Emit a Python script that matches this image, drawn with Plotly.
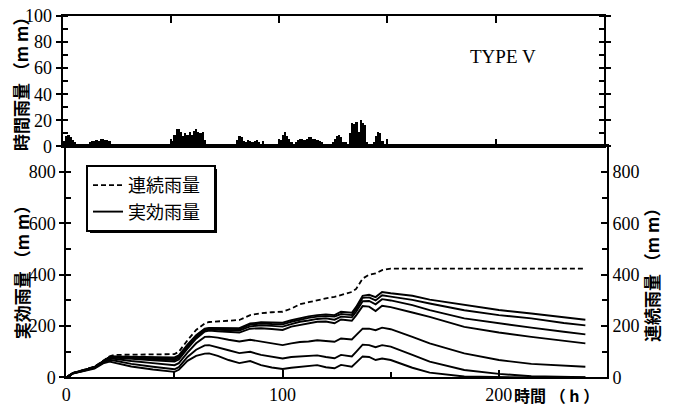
import plotly.graph_objects as go

# ---------------- data ----------------
hours = list(range(150))
hourly_rain = [
    4, 8, 9, 7, 5, 3, 2, 2, 2, 2, 2, 2, 3, 4, 4, 5, 4, 6, 6, 5, 5, 4,
    1, 1, 0.5, 1, 2, 1, 0.5, 0.5, 0.5, 0.5, 0.3, 0.3, 0.3, 0.3, 0.3, 0.3, 0.3, 0.3,
    0.5, 0.5, 0.5, 0.5, 0.5, 0.8, 1, 1, 1, 2,
    4, 9, 13, 13, 11, 8, 10, 9, 11, 9, 12, 13, 11, 10, 11, 5, 2,
    2, 1.5, 1.5, 1.5, 1.5, 1.5, 1.5, 1.5, 1.5, 1, 1, 1.5, 2,
    5, 8, 7, 4, 3, 5, 4, 3, 4, 5, 3, 2,
    4, 1, 1, 1, 1, 1, 1.5, 2,
    5, 9, 11, 8, 6, 3, 2,
    3, 5, 6, 6, 5, 6, 7, 7, 6, 6, 5, 4, 3,
    2, 2, 1.5, 2, 3,
    6, 8, 9, 7, 3,
    3, 2,
    10, 18, 17, 19, 11, 20, 18, 16,
    3, 2, 2, 3,
    8, 11, 10, 4,
    1, 0,
]

t = [0, 3, 8, 13, 17, 20, 22, 30, 40, 50, 52, 56, 60, 64, 66, 70, 75, 80, 85, 90, 95, 100,
     104, 108, 112, 116, 120, 124, 127, 132, 134, 137, 140, 143, 146, 150,
     160, 168, 184, 200, 215, 230, 240]

continuous = [0, 18, 30, 42, 65, 82, 88, 89, 90, 91, 100, 145, 185, 210, 216,
              219, 221, 224, 243, 250, 254, 256, 268, 285, 293, 302, 308, 314, 322, 333,
              345, 385, 400, 405, 418, 424, 424, 424, 424, 424, 424, 424, 424]

eff1 = [0, 17, 29, 41, 63, 80, 82, 81, 80, 78, 86, 128, 165, 190, 193,
        193, 192, 192, 210, 215, 214, 213, 223, 232, 238, 243, 245, 243, 256, 252,
        275, 318, 322, 313, 333, 328, 318, 303, 282, 263, 249, 235, 225]
eff2 = [0, 17, 29, 41, 63, 80, 81, 79, 77, 74, 82, 124, 162, 188, 191,
        190, 189, 189, 206, 210, 208, 207, 217, 226, 232, 237, 239, 237, 247, 243,
        266, 310, 312, 300, 320, 315, 302, 288, 262, 243, 230, 212, 203]
eff3 = [0, 17, 28, 40, 62, 79, 80, 76, 72, 68, 76, 118, 157, 184, 188,
        186, 184, 183, 199, 203, 201, 198, 208, 217, 222, 228, 230, 225, 237, 234,
        256, 297, 298, 285, 305, 300, 282, 262, 230, 210, 194, 178, 168]
eff4 = [0, 17, 28, 40, 62, 78, 78, 72, 67, 62, 70, 112, 151, 179, 183,
        180, 177, 175, 190, 192, 189, 185, 198, 205, 210, 217, 218, 211, 226, 221,
        242, 278, 276, 259, 279, 274, 253, 236, 197, 175, 158, 142, 133]
eff5 = [0, 16, 27, 39, 60, 75, 73, 64, 56, 48, 56, 97, 133, 158, 159,
        155, 147, 140, 147, 140, 133, 126, 133, 138, 140, 145, 142, 139, 152, 148,
        165, 190, 190, 184, 194, 188, 158, 133, 94, 68, 53, 45, 42]
eff6 = [0, 16, 26, 37, 58, 69, 66, 53, 42, 32, 40, 80, 108, 125, 126,
        118, 106, 95, 100, 88, 80, 74, 80, 82, 82, 86, 80, 75, 88, 82,
        100, 128, 126, 118, 126, 120, 88, 62, 29, 14, 5, 2, 1]
eff7 = [0, 15, 25, 35, 55, 62, 58, 43, 31, 22, 30, 65, 84, 93, 94,
        84, 68, 56, 64, 48, 39, 33, 38, 42, 45, 48, 40, 36, 49, 42,
        58, 82, 80, 68, 74, 68, 38, 19, 4, 1, 0, 0, 0]
effective = [eff1, eff2, eff3, eff4, eff5, eff6, eff7]

x_ticks = [0, 100, 200]
y_ticks_eff = [0, 200, 400, 600, 800]
y_ticks_rain = [0, 20, 40, 60, 80, 100]

# ---------------- figure ----------------
SERIF = "Liberation Serif"
CJK = "Noto Sans CJK JP"
fig = go.Figure()

fig.add_trace(go.Bar(
    x=[h + 0.5 for h in hours], y=hourly_rain, width=1,
    marker=dict(color="black", line=dict(width=0)),
    xaxis="x2", yaxis="y2", showlegend=False,
))

fig.add_trace(go.Scatter(
    x=t, y=continuous, mode="lines", name="連続雨量\u2002",
    line=dict(color="black", width=1.8, dash="5px,3px"),
    xaxis="x", yaxis="y3",
))
for i, ys in enumerate(effective):
    fig.add_trace(go.Scatter(
        x=t, y=ys, mode="lines", name="実効雨量\u2002",
        line=dict(color="black", width=1.9),
        showlegend=(i == 0), xaxis="x", yaxis="y",
    ))

axis_common = dict(showline=True, linecolor="black", linewidth=2, showgrid=False,
                   zeroline=False, tickcolor="black", tickwidth=1.5, automargin=False,
                   tickfont=dict(family=SERIF, size=18, color="black"))

def ann(text, x, y, size, family=CJK, angle=0, weight=700):
    return dict(text=text, x=x, y=y, xref="paper", yref="paper", xanchor="center",
                yanchor="middle", textangle=angle, showarrow=False,
                font=dict(family=family, size=size, color="black", weight=weight))

# legend drop shadow (paper coordinates)
W, H, L, B = 545.0, 362.0, 62.0, 28.0
def px_x(p):
    return (p - L) / W
def px_y(p):
    return (406 - B - p) / H

fig.update_layout(
    width=673, height=406,
    margin=dict(l=62, r=66, t=16, b=28),
    paper_bgcolor="white", plot_bgcolor="white",
    bargap=0,
    xaxis=dict(domain=[0.008, 1], range=[0, 250], anchor="y",
               tickvals=x_ticks, ticks="inside", ticklen=7, mirror=True,
               minor=dict(dtick=50, tick0=0, ticks="inside", ticklen=5, tickcolor="black"),
               **axis_common),
    yaxis=dict(domain=[0.0014, 0.64], range=[0, 900], anchor="x",
               tickvals=y_ticks_eff, ticks="outside", ticklen=5,
               minor=dict(dtick=100, tick0=0, ticks="inside", ticklen=5, tickcolor="black"),
               **axis_common),
    yaxis3=dict(range=[0, 900], overlaying="y", side="right", anchor="x",
                tickvals=y_ticks_eff, ticks="inside", ticklen=6,
                minor=dict(dtick=100, tick0=0, ticks="inside", ticklen=5, tickcolor="black"),
                **axis_common),
    xaxis2=dict(domain=[0.001, 0.9945], range=[0, 250], anchor="y2",
                dtick=50, tick0=0, ticks="inside", ticklen=7, mirror="allticks",
                showticklabels=False, **axis_common),
    yaxis2=dict(domain=[0.64, 1], range=[0, 100], anchor="x2",
                tickvals=y_ticks_rain, ticks="outside", ticklen=5, mirror="ticks",
                minor=dict(dtick=10, tick0=0, ticks="inside", ticklen=5, tickcolor="black"),
                **axis_common),
    legend=dict(x=px_x(86), y=px_y(165), xanchor="left", yanchor="top",
                bgcolor="white", bordercolor="black", borderwidth=2,
                font=dict(family=CJK, size=18, color="black"),
                tracegroupgap=0, itemwidth=30),
    shapes=[
        dict(type="rect", xref="paper", yref="paper", layer="above",
             x0=px_x(90), x1=px_x(217), y0=px_y(233), y1=px_y(169),
             fillcolor="black", line=dict(width=0)),
    ],
    annotations=[
        ann("TYPE V", 0.809, 0.887, 19, family=SERIF, weight=400),
        ann("時間雨量 （m m）", -0.077, 0.823, 17, angle=-90),
        ann("実効雨量 （m m）", -0.073, 0.304, 17, angle=-90),
        ann("連続雨量 （m m）", 1.083, 0.296, 17, angle=-90),
        ann("時間 （ h ）", 0.908, -0.047, 16),
    ],
)

fig.write_html("out.html")
